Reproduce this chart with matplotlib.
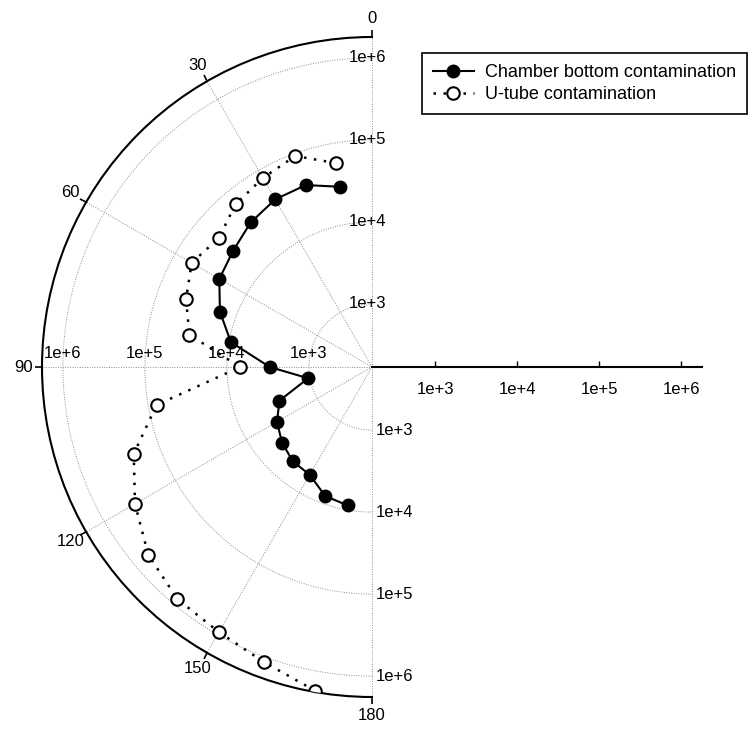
import numpy as np
import matplotlib
matplotlib.use('Agg')
import matplotlib.pyplot as plt
from matplotlib.ticker import NullLocator

plt.rcParams['font.family'] = ['Liberation Sans', 'DejaVu Sans']

# ---- data ----
angles_deg = [10, 20, 30, 40, 50, 60, 70, 80, 90, 100, 110, 120, 130, 140, 150, 160, 170]
chamber = [2.9e4, 3.9e4, 3.9e4, 3.4e4, 2.75e4, 2.4e4, 1.6e4, 9.5e3, 3.0e3,
           1.05e3, 2.7e3, 3.7e3, 4.6e3, 5.4e3, 5.6e3, 8.0e3, 8.8e3]
utube = [5.7e4, 9.3e4, 7.8e4, 6.6e4, 4.7e4, 5.9e4, 4.4e4, 3.1e4, 6.9e3,
         7.9e4, 2.1e5, 3.7e5, 6.2e5, 8.4e5, 9.2e5, 1.16e6, 1.73e6]
series_names = ['Chamber bottom contamination', 'U-tube contamination']
r_ticks = [1e3, 1e4, 1e5, 1e6]
r_labels = ['1e+3', '1e+4', '1e+5', '1e+6']
theta_ticks = [0, 30, 60, 90, 120, 150, 180]

R_MIN = 10 ** 2.23
R_MAX = 10 ** 6.255

GRID_KW = dict(color='#8c8c8c', linestyle=(0, (1, 1.5)), linewidth=0.7)

W, H = 753, 732
fig = plt.figure(figsize=(W / 100, H / 100), dpi=100)
cx, cy, rad = 372, 367, 330

# the half-disc is fitted into a square box centred on the wedge's own centre
wx = cx - rad / 2
ax = fig.add_axes([(wx - rad) / W, (H - cy - rad) / H, 2 * rad / W, 2 * rad / H],
                  projection='polar')
ax.set_theta_zero_location('N')
ax.set_theta_direction(1)
ax.set_thetamin(0)
ax.set_thetamax(180)
ax.set_rscale('log')
ax.set_rlim(R_MIN, R_MAX)

th = np.deg2rad(angles_deg)
l1, = ax.plot(th, chamber, '-o', color='black', lw=1.5, ms=9,
              mfc='black', mec='black', label=series_names[0], zorder=5)
l2, = ax.plot(th, utube, linestyle=(0, (1, 3)), marker='o', color='black', lw=1.8, ms=9,
              mfc='white', mec='black', mew=1.5, label=series_names[1], zorder=5)

ax.set_xticks(np.deg2rad(theta_ticks))
ax.set_xticklabels([str(t) for t in theta_ticks], fontsize=12)
ax.set_yticks(r_ticks)
ax.yaxis.set_minor_locator(NullLocator())
ax.set_yticklabels([])
ax.grid(True, **GRID_KW)
# the 0 and 180 degree grid lines sit on the wedge edge and get clipped: draw them unclipped
for edge in (0.0, np.pi):
    ax.axvline(edge, clip_on=False, zorder=1, **GRID_KW)
ax.spines['polar'].set_linewidth(1.5)
# matplotlib re-enables these at draw time for a partial wedge; make them invisible
for s in ('start', 'end'):
    ax.spines[s].set_edgecolor('none')
    ax.spines[s].set_linewidth(0)
ax.tick_params(axis='x', which='major', top=True, bottom=False,
               direction='out', length=5, width=1.2, pad=1)
ax.tick_params(axis='y', length=0)

for r, lab in zip(r_ticks, r_labels):
    ax.annotate(lab, xy=(0, r), xytext=(-3, 0), textcoords='offset points',
                ha='center', va='center', fontsize=12)
    ax.annotate(lab, xy=(np.pi / 2, r), xytext=(0, 4), textcoords='offset points',
                ha='center', va='bottom', fontsize=12)
    ax.annotate(lab, xy=(np.pi, r), xytext=(3, 0), textcoords='offset points',
                ha='left', va='center', fontsize=12)

# horizontal radial axis to the right of the centre
hax = fig.add_axes([cx / W, (H - cy) / H, rad / W, 0.0001])
hax.set_xscale('log')
hax.set_xlim(R_MIN, R_MAX)
for s in ['top', 'left', 'right']:
    hax.spines[s].set_visible(False)
hax.spines['bottom'].set_linewidth(1.5)
hax.set_yticks([])
hax.set_xticks(r_ticks)
hax.set_xticklabels(r_labels)
hax.xaxis.set_minor_locator(NullLocator())
hax.tick_params(axis='x', direction='in', length=4, width=1, labelsize=12, pad=11)
hax.patch.set_visible(False)

leg = fig.legend(handles=[l1, l2], loc='upper right',
                 bbox_to_anchor=(747 / W, 1 - 53 / H), fontsize=13,
                 fancybox=False, edgecolor='black', framealpha=1,
                 handlelength=2.3, borderpad=0.6, labelspacing=0.3,
                 handletextpad=0.6, borderaxespad=0)
leg.get_frame().set_linewidth(1.2)

fig.savefig('out.png', dpi=100)
